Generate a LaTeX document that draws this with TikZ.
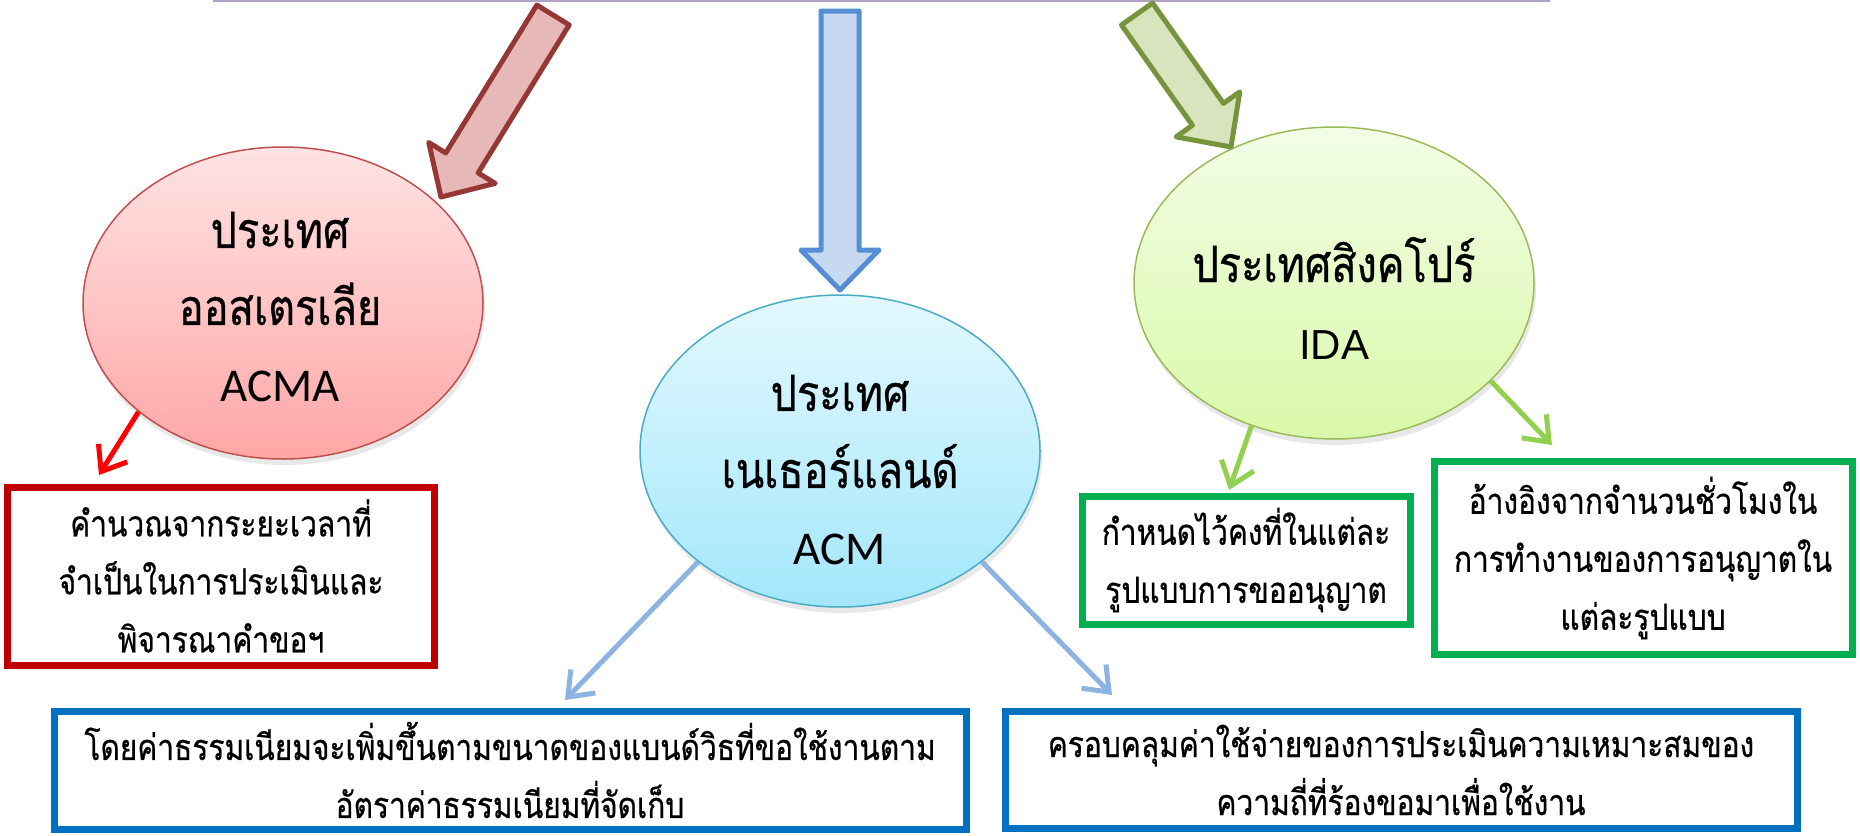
\documentclass[tikz,border=0pt]{standalone}
\usepackage{fontspec}
\setmainfont{Carlito}
\newfontfamily\thaifont[Script=Thai, FakeStretch=0.83, FakeBold=0.6]{Loma}
\newfontfamily\arialfont{Liberation Sans}
\usetikzlibrary{shapes.geometric,arrows.meta,calc,shadows}

\definecolor{auslight}{HTML}{FFE3E3}
\definecolor{ausdark}{HTML}{FFA6A6}
\definecolor{ausline}{HTML}{C0504D}
\definecolor{nllight}{HTML}{E3F8FF}
\definecolor{nldark}{HTML}{A3E7FB}
\definecolor{nlline}{HTML}{4BACC6}
\definecolor{sglight}{HTML}{F3FDE6}
\definecolor{sgdark}{HTML}{D9F9A9}
\definecolor{sgline}{HTML}{9BBB59}
\definecolor{redarrowfill}{HTML}{E6B9B8}
\definecolor{redarrowline}{HTML}{953735}
\definecolor{bluearrowfill}{HTML}{C6D9F1}
\definecolor{bluearrowline}{HTML}{558ED5}
\definecolor{greenarrowfill}{HTML}{D7E4BD}
\definecolor{greenarrowline}{HTML}{77933C}
\definecolor{boxred}{HTML}{C00000}
\definecolor{boxblue}{HTML}{0070C0}
\definecolor{boxgreen}{HTML}{00B050}
\definecolor{thinred}{HTML}{FF0000}
\definecolor{thinblue}{HTML}{8DB3E2}
\definecolor{thingreen}{HTML}{92D050}
\definecolor{topline}{HTML}{B3A2C7}

% wide block arrow from #1 to #2 (coordinate names), style #3
\newcommand{\blockarrow}[3]{%
  \coordinate (#2-base) at ($(#2)!40pt!(#1)$);
  \draw[#3] ($(#1)!19pt!90:(#2)$) -- ($(#2-base)!19pt!90:(#2)$)
    -- ($(#2-base)!39pt!90:(#2)$) -- (#2)
    -- ($(#2-base)!39pt!-90:(#2)$) -- ($(#2-base)!19pt!-90:(#2)$)
    -- ($(#1)!19pt!-90:(#2)$) -- cycle;
}

\begin{document}
\begin{tikzpicture}[x=1pt,y=-1pt,
  country/.style={ellipse, minimum width=400pt, minimum height=312pt,
    line width=1.5pt, inner sep=0pt,
    drop shadow={shadow xshift=2pt, shadow yshift=-6pt, opacity=0.18}},
  countrytext/.style={align=center, font=\thaifont\fontsize{50}{77}\selectfont},
  infobox/.style={rectangle, line width=7pt, fill=white, align=center,
    inner sep=0pt, font=\thaifont\fontsize{36}{58}\selectfont},
  thinarrow/.style={line width=5pt, -{Straight Barb[length=22pt,width=34pt]}},
  blockstyle/.style={line width=5pt, line join=round}
]
  \useasboundingbox (0,0) rectangle (1860,835);

  % top frame edge
  \draw[topline, line width=4pt] (213,0) -- (1550,0);

  % countries
  \node[country, draw=ausline, top color=auslight, bottom color=ausdark] (aus) at (283,303) {};
  \node[country, draw=nlline, top color=nllight, bottom color=nldark] (nl) at (840,451) {};
  \node[country, draw=sgline, top color=sglight, bottom color=sgdark] (sg) at (1334,283) {};

  \node[countrytext] (aus text) at (280,307)
    {ประเทศ\\ออสเตรเลีย\\{\rmfamily\fontsize{47}{77}\selectfont ACMA}};
  \node[countrytext] (nl text) at (840,470)
    {ประเทศ\\เนเธอร์แลนด์\\{\rmfamily\fontsize{47}{77}\selectfont ACM}};
  \node[countrytext] (sg text) at (1334,298)
    {ประเทศสิงคโปร์\\{\arialfont\fontsize{42}{77}\selectfont IDA}};

  % block arrows from the top
  \coordinate (aus tail) at (553,15);
  \coordinate (aus tip) at (441,197);
  \coordinate (nl tail) at (840,11);
  \coordinate (nl tip) at (840,290);
  \coordinate (sg tail) at (1137,14);
  \coordinate (sg tip) at (1231,147);
  \blockarrow{aus tail}{aus tip}{blockstyle, draw=redarrowline, fill=redarrowfill}
  \blockarrow{nl tail}{nl tip}{blockstyle, draw=bluearrowline, fill=bluearrowfill}
  \blockarrow{sg tail}{sg tip}{blockstyle, draw=greenarrowline, fill=greenarrowfill}

  % fee boxes
  \node[infobox, draw=boxred, minimum width=427pt, minimum height=178pt] (acma fee) at (221,576)
    {คำนวณจากระยะเวลาที่\\จำเป็นในการประเมินและ\\พิจารณาคำขอฯ};
  \node[infobox, draw=boxblue, minimum width=912pt, minimum height=118pt] (acm band) at (510,770)
    {โดยค่าธรรมเนียมจะเพิ่มขึ้นตามขนาดของแบนด์วิธที่ขอใช้งานตาม\\อัตราค่าธรรมเนียมที่จัดเก็บ};
  \node[infobox, draw=boxblue, minimum width=792pt, minimum height=117pt] (acm cost) at (1401,770)
    {ครอบคลุมค่าใช้จ่ายของการประเมินความเหมาะสมของ\\ความถี่ที่ร้องขอมาเพื่อใช้งาน};
  \node[infobox, draw=boxgreen, minimum width=328pt, minimum height=128pt] (ida fixed) at (1246,560)
    {กำหนดไว้คงที่ในแต่ละ\\รูปแบบการขออนุญาต};
  \node[infobox, draw=boxgreen, minimum width=418pt, minimum height=193pt] (ida hours) at (1643,558)
    {อ้างอิงจากจำนวนชั่วโมงใน\\การทำงานของการอนุญาตใน\\แต่ละรูปแบบ};

  % thin arrows to the boxes
  \coordinate (acma fee tip) at (99,475);
  \coordinate (acm band tip) at (565,700);
  \coordinate (acm cost tip) at (1112,695);
  \coordinate (ida fixed tip) at (1229,490);
  \coordinate (ida hours tip) at (1552,445);
  \draw[thinarrow, thinred] (aus.217) -- (acma fee tip);
  \draw[thinarrow, thinblue] (nl.218) -- (acm band tip);
  \draw[thinarrow, thinblue] (nl.322) -- (acm cost tip);
  \draw[thinarrow, thingreen] (sg.240) -- (ida fixed tip);
  \draw[thinarrow, thingreen] (sg.328) -- (ida hours tip);
\end{tikzpicture}
\end{document}
